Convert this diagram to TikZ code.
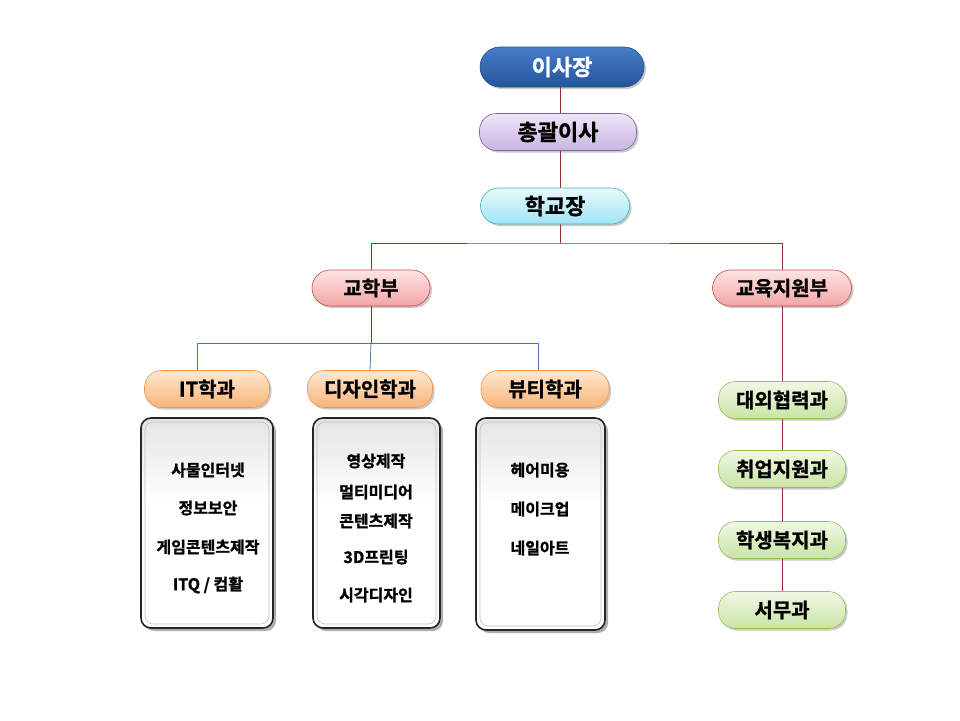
\documentclass[tikz,border=0pt]{standalone}
\usepackage{fontspec}
\setmainfont{Noto Sans CJK KR}[BoldFont={Noto Sans CJK KR Bold}, BoldFeatures={FakeBold=1.2}]
\usetikzlibrary{shadows,backgrounds}
\definecolor{redline}{RGB}{150,45,45}
\definecolor{blueline}{RGB}{80,120,165}
\pgfdeclareverticalshading{listshade}{100bp}{color(0bp)=(white); color(55bp)=(white); color(85bp)=(black!16); color(100bp)=(black!22)}
\tikzset{
  pill/.style={rounded corners=17pt, minimum height=37pt, inner sep=0pt, line width=0.6pt,
    font=\fontsize{20}{23}\selectfont\bfseries,
    drop shadow={shadow xshift=2pt, shadow yshift=-2pt, opacity=0.35, fill=black!60}},
  chairbox/.style={pill, rounded corners=20pt, minimum height=40pt, draw={rgb,255:red,40;green,80;blue,140},
    top color={rgb,255:red,70;green,125;blue,200}, bottom color={rgb,255:red,35;green,85;blue,155},
    text=white, font=\fontsize{22}{25}\selectfont\bfseries},
  execbox/.style={pill, draw={rgb,255:red,128;green,100;blue,162},
    top color={rgb,255:red,238;green,230;blue,248}, bottom color={rgb,255:red,200;green,180;blue,226},
    font=\fontsize{22}{25}\selectfont\bfseries},
  prinbox/.style={pill, rounded corners=18pt, minimum height=36pt, draw={rgb,255:red,75;green,172;blue,198},
    top color={rgb,255:red,232;green,250;blue,253}, bottom color={rgb,255:red,160;green,228;blue,245},
    font=\fontsize{22}{25}\selectfont\bfseries},
  divbox/.style={pill, rounded corners=18pt, minimum height=36pt, draw={rgb,255:red,192;green,80;blue,77},
    top color={rgb,255:red,253;green,228;blue,228}, bottom color={rgb,255:red,244;green,165;blue,165}},
  deptbox/.style={pill, draw={rgb,255:red,240;green,150;blue,80},
    top color={rgb,255:red,254;green,232;blue,210}, bottom color={rgb,255:red,248;green,180;blue,120}},
  greenbox/.style={pill, draw={rgb,255:red,155;green,187;blue,89},
    top color={rgb,255:red,240;green,248;blue,228}, bottom color={rgb,255:red,200;green,228;blue,165}},
  listbox/.style={rounded corners=10pt, draw=black!85, line width=1.6pt, inner sep=0pt,
    shading=listshade,
    drop shadow={shadow xshift=3pt, shadow yshift=-3pt, opacity=0.45, fill=black!70}},
  innerbox/.style={rounded corners=8pt, draw=black!25, line width=0.6pt, inner sep=0pt},
  item/.style={font=\fontsize{16}{19}\selectfont\bfseries, inner sep=0pt},
  rline/.style={draw=redline, line width=0.8pt},
  bline/.style={draw=blueline, line width=0.8pt}
}
\begin{document}
\begin{tikzpicture}[x=1pt,y=-1pt]
\useasboundingbox (0,0) rectangle (960,720);
% top chain
\node[chairbox, minimum width=164pt] (chair) at (562,67) {이사장};
\node[execbox, minimum width=157pt] (exec) at (558,132) {총괄이사};
\node[prinbox, minimum width=149pt] (prin) at (555,206) {학교장};
% divisions
\node[divbox, minimum width=118pt] (acad) at (371,288) {교학부};
\node[divbox, minimum width=139pt] (supp) at (782,288) {교육지원부};
% departments
\node[deptbox, minimum width=125pt] (it) at (207,389) {IT학과};
\node[deptbox, minimum width=125pt] (des) at (370,389) {디자인학과};
\node[deptbox, minimum width=128pt] (bea) at (545,389) {뷰티학과};
% list boxes
\node[listbox, minimum width=132pt, minimum height=210pt] (itbox) at (207,523) {};
\node[listbox, minimum width=127pt, minimum height=210pt] (desbox) at (376.5,523) {};
\node[listbox, minimum width=129pt, minimum height=212pt] (beabox) at (540.5,524) {};
\node[innerbox, minimum width=124pt, minimum height=202pt] (itin) at (itbox) {};
\node[innerbox, minimum width=119pt, minimum height=202pt] (desin) at (desbox) {};
\node[innerbox, minimum width=121pt, minimum height=204pt] (beain) at (beabox) {};
% items
\node[item] (i1) at (208,470) {사물인터넷};
\node[item] (i2) at (208,508) {정보보안};
\node[item] (i3) at (208,547) {게임콘텐츠제작};
\node[item] (i4) at (208,585) {ITQ / 컴활};
\node[item] (d1) at (376,461) {영상제작};
\node[item] (d2) at (376,492) {멀티미디어};
\node[item] (d3) at (376,521) {콘텐츠제작};
\node[item] (d4) at (376,557) {3D프린팅};
\node[item] (d5) at (376,595) {시각디자인};
\node[item] (b1) at (540,470) {헤어미용};
\node[item] (b2) at (540,509) {메이크업};
\node[item] (b3) at (540,548) {네일아트};
% support units
\node[greenbox, minimum width=127pt] (g1) at (782,400) {대외협력과};
\node[greenbox, minimum width=127pt] (g2) at (782,469) {취업지원과};
\node[greenbox, minimum width=127pt] (g3) at (782,540) {학생복지과};
\node[greenbox, minimum width=127pt] (g4) at (782,610) {서무과};
% connectors
\begin{scope}[on background layer]
\coordinate (t) at (560,243);
\coordinate (b) at (371,343);
\coordinate (bl) at (197,343);
\coordinate (br) at (538,343);
\draw[rline] (chair.south -| t) -- (t);
\draw[rline] (acad.north) |- (t) -| (supp.north);
\draw[rline] (acad.south) -- (b);
\draw[bline] (bl |- it.north) -- (bl) -- (br) -- (br |- bea.north);
\draw[bline] (b) -- (des.north);
\draw[rline] (supp.south) -- (g4.north);
\end{scope}
\end{tikzpicture}
\end{document}
